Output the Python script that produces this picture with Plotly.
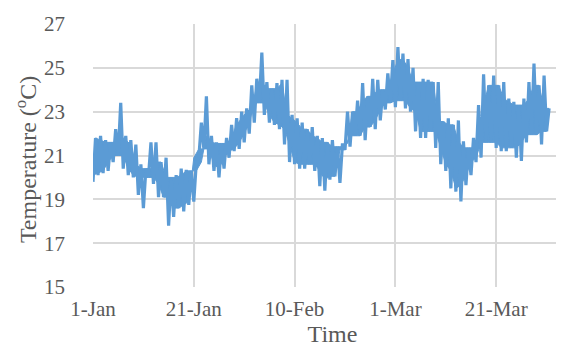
import plotly.graph_objects as go
import pandas as pd

# Daily low / high temperature (°C), 1 Jan .. 31 Mar (leap year)
day_low = [19.8, 20.1, 20.2, 20.3, 20.7, 21.0, 20.4, 20.1, 20.0, 19.2,
           18.6, 20.0, 19.7, 19.1, 19.1, 17.8, 18.2, 18.6, 18.45, 18.75,
           18.9, 20.9, 21.3, 20.6, 20.3, 20.0, 20.4, 20.9, 21.2, 21.3,
           21.6, 22.0, 22.5, 23.4, 22.85, 22.5, 22.4, 22.2, 21.5, 20.7,
           20.6, 20.4, 20.4, 20.6, 20.3, 19.6, 19.4, 19.9, 20.05, 19.75,
           21.25, 21.4, 21.9, 21.9, 21.7, 22.3, 22.2, 22.6, 23.1, 23.4,
           23.2, 23.5, 23.15, 23.0, 22.1, 21.8, 21.8, 22.1, 21.35, 20.6,
           20.3, 19.5, 19.35, 18.9, 19.65, 20.1, 20.7, 20.9, 21.6, 21.6,
           21.35, 21.2, 21.2, 21.35, 20.9, 20.75, 21.6, 21.95, 21.95, 21.5,
           22.1]
day_high = [21.8, 21.9, 21.7, 21.6, 22.2, 23.4, 21.9, 21.7, 21.5, 20.6,
            20.4, 21.6, 21.6, 20.7, 20.9, 20.0, 20.1, 20.4, 20.35, 20.3,
            20.7, 22.5, 23.7, 21.9, 21.6, 21.55, 21.8, 22.4, 22.7, 23.0,
            23.15, 24.2, 24.5, 25.7, 24.35, 24.05, 24.3, 24.45, 24.45, 22.85,
            22.7, 22.5, 22.2, 22.3, 21.9, 21.8, 21.6, 21.7, 21.4, 21.55,
            23.0, 23.0, 23.5, 24.3, 23.7, 24.5, 24.45, 24.0, 24.75, 25.35,
            25.95, 25.65, 25.4, 25.0, 24.35, 24.5, 24.45, 24.35, 24.35, 22.55,
            22.7, 22.4, 22.6, 21.65, 21.35, 21.8, 23.3, 24.7, 24.2, 24.65,
            24.2, 24.35, 23.6, 23.45, 23.3, 23.6, 24.35, 25.2, 24.2, 24.65,
            23.15]

tick_dates = ["2016-01-01", "2016-01-21", "2016-02-10", "2016-03-01", "2016-03-21"]
tick_labels = ["1-Jan", "21-Jan", "10-Feb", "1-Mar", "21-Mar"]
y_ticks = [15, 17, 19, 21, 23, 25, 27]

start = pd.Timestamp("2016-01-01")
n = len(day_low)
low_times = [start + pd.Timedelta(hours=24 * d) for d in range(n)]
high_times = [start + pd.Timedelta(hours=24 * d + 12) for d in range(n)]

# zig-zag through every daily low and high
times, temps = [], []
for lt, lo, ht, hi in zip(low_times, day_low, high_times, day_high):
    times += [lt, ht]
    temps += [lo, hi]

# solid core of the band: the range shared by neighbouring days
core_low = [max(day_low[max(d - 1, 0):d + 2]) for d in range(n)]
core_high = [min(day_high[max(d - 1, 0):d + 2]) for d in range(n)]

blue = "#5B9BD5"
fig = go.Figure()
fig.add_trace(go.Scatter(x=low_times, y=core_low, mode="lines",
                         line=dict(color=blue, width=1, simplify=False),
                         showlegend=False, hoverinfo="skip"))
fig.add_trace(go.Scatter(x=high_times, y=core_high, mode="lines",
                         line=dict(color=blue, width=1, simplify=False),
                         fill="tonexty", fillcolor=blue,
                         showlegend=False, hoverinfo="skip"))
fig.add_trace(go.Scatter(x=times, y=temps, mode="lines",
                         line=dict(color=blue, width=3.2, simplify=False),
                         showlegend=False, hoverinfo="skip"))

font_family = "Liberation Serif, Times New Roman, serif"
grid = "#d9d9d9"
txt = "#595959"

fig.update_layout(
    width=564, height=350,
    margin=dict(l=85, r=0, t=16, b=71),
    paper_bgcolor="white", plot_bgcolor="white",
    font=dict(family=font_family, color=txt, size=20),
)
fig.update_xaxes(
    type="date",
    range=["2016-01-01", "2016-04-05 01:00"],
    tickvals=tick_dates, ticktext=tick_labels,
    showgrid=True, gridcolor=grid, gridwidth=1.5,
    showline=False, zeroline=False,
    ticks="", ticklabelstandoff=7,
    tickfont=dict(size=21, color=txt, family=font_family),
    title=dict(text="Time", font=dict(size=24, color=txt, family=font_family), standoff=2),
)
fig.update_yaxes(
    range=[15, 27], tickvals=y_ticks,
    showgrid=True, gridcolor=grid, gridwidth=1.5,
    showline=False, zeroline=False,
    ticks="", ticklabelstandoff=27,
    tickfont=dict(size=21, color=txt, family=font_family),
)
fig.add_annotation(
    text="Temperature (<sup>o</sup>C)", textangle=-90,
    xref="paper", yref="paper", x=-0.14, y=0.486,
    xanchor="center", yanchor="middle", showarrow=False,
    font=dict(size=24, color=txt, family=font_family),
)

fig.write_html("out.html")
